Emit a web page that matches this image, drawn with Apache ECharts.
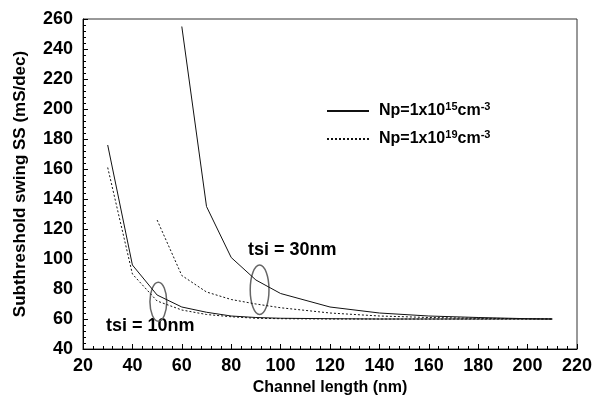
<!DOCTYPE html>
<html><head><meta charset="utf-8">
<script src="https://cdn.jsdelivr.net/npm/echarts@6/dist/echarts.min.js"></script>
<style>html,body{margin:0;padding:0;background:#fff}#c{width:607px;height:405px}</style>
</head><body><div id="c"></div>
<script>
// Channel length (nm) for each curve
const x10 = [30,40,50,60,70,80,90,100,120,140,160,180,200,210];
const x30lo = [60,70,80,90,100,120,140,160,180,200,210];
const x30hi = [50,60,70,80,90,100,120,140,160,180,200,210];
// Subthreshold swing (mS/dec)
const ss10_1e15 = [176,96,76,68,64.5,62,61,60.5,60.2,60,60,60,60,60];
const ss10_1e19 = [161,90,72,66,63,61.5,60.5,60.2,60,60,60,60,60,60];
const ss30_1e15 = [255,135,101,86,77,68,64,62,61,60.2,60];
const ss30_1e19 = [126,89,78,73,70,67.5,64,62,61,60.5,60.2,60];
// Ellipse annotations: [centerX, centerY, halfWidth(nm), halfHeight(mS/dec)]
const ellipses = [[50.5,71.5,3.4,13],[91.5,79.5,3.8,16.5]];
const nameLow = 'Np=1x10^15cm^-3';
const nameHigh = 'Np=1x10^19cm^-3';
const FF = '"Liberation Sans", Arial, sans-serif';

function pairs(xs, ys){ return xs.map((x,i)=>[x, ys[i]]); }

const chart = echarts.init(document.getElementById('c'), null, {renderer:'canvas'});
const solid = {color:'#111', width:1, type:'solid'};
const dotted = {color:'#111', width:1, type:[2,2]};
chart.setOption({
  animation:false,
  grid:{left:83, right:30, top:19, bottom:56, show:true, borderColor:'#333', borderWidth:1},
  legend:{
    orient:'vertical', left:321, top:96, itemWidth:42, itemHeight:14, itemGap:10,
    data:[nameLow, nameHigh],
    itemStyle:{opacity:0},
    formatter: function(n){
      const e = n === nameLow ? '15' : '19';
      return '{f|Np=1x10}{s|' + e + '}{a|cm}{s|-3}';
    },
    textStyle:{rich:{
      f:{fontFamily:FF, fontWeight:'bold', fontSize:16, color:'#000', lineHeight:20, padding:[0,0,0,5]},
      a:{fontFamily:FF, fontWeight:'bold', fontSize:16, color:'#000', lineHeight:20},
      s:{fontFamily:FF, fontWeight:'bold', fontSize:11, color:'#000', lineHeight:12, verticalAlign:'top'}
    }}
  },
  xAxis:{
    type:'value', min:20, max:220, interval:20,
    name:'Channel length (nm)', nameLocation:'middle', nameGap:27,
    nameTextStyle:{fontFamily:FF, fontWeight:'bold', fontSize:16, color:'#000'},
    axisLine:{lineStyle:{color:'#000', width:1}},
    axisTick:{inside:true, length:5, lineStyle:{color:'#000'}},
    minorTick:{show:true, splitNumber:5, length:3, lineStyle:{color:'#000'}},
    axisLabel:{fontFamily:FF, fontWeight:'bold', fontSize:18, color:'#000', margin:8},
    splitLine:{show:false}
  },
  yAxis:{
    type:'value', min:40, max:260, interval:20,
    name:'Subthreshold swing SS (mS/dec)', nameLocation:'middle', nameGap:54,
    nameTextStyle:{fontFamily:FF, fontWeight:'bold', fontSize:17, color:'#000'},
    axisLine:{show:true, lineStyle:{color:'#000', width:1}},
    axisTick:{inside:true, length:5, lineStyle:{color:'#000'}},
    minorTick:{show:true, splitNumber:5, length:3, lineStyle:{color:'#000'}},
    axisLabel:{fontFamily:FF, fontWeight:'bold', fontSize:18, color:'#000', margin:10},
    splitLine:{show:false}
  },
  series:[
    {type:'line', name:nameLow, data:pairs(x10, ss10_1e15), symbol:'none', lineStyle:solid, itemStyle:{color:'#111'}},
    {type:'line', name:nameHigh, data:pairs(x10, ss10_1e19), symbol:'none', lineStyle:dotted, itemStyle:{color:'#111'}},
    {type:'line', name:nameLow, data:pairs(x30lo, ss30_1e15), symbol:'none', lineStyle:solid, itemStyle:{color:'#111'}},
    {type:'line', name:nameHigh, data:pairs(x30hi, ss30_1e19), symbol:'none', lineStyle:dotted, itemStyle:{color:'#111'}},
    {type:'custom', name:'ellipses', data:ellipses, silent:true,
      renderItem:function(params, api){
        const c = api.coord([api.value(0), api.value(1)]);
        const s = api.size([api.value(2), api.value(3)]);
        return {type:'ellipse', shape:{cx:c[0], cy:c[1], rx:s[0], ry:s[1]},
          style:{fill:'none', stroke:'#666', lineWidth:1.5}};
      }}
  ],
  graphic:[
    {type:'text', left:248, top:241, style:{text:'tsi = 30nm', font:'bold 18px ' + FF, fill:'#000'}},
    {type:'text', left:106, top:317, style:{text:'tsi = 10nm', font:'bold 18px ' + FF, fill:'#000'}}
  ]
});
</script></body></html>
